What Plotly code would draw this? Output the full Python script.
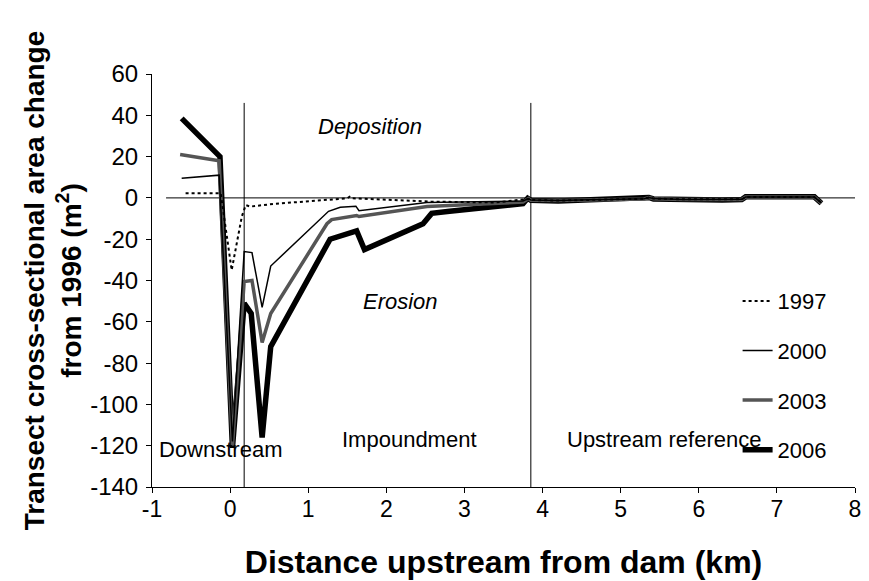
import plotly.graph_objects as go

# ---- data (km upstream from dam, change in m^2) ----
x_1997 = [-0.57, -0.12, 0.02, 0.15, 0.20, 0.26, 0.56, 1.50, 1.53, 1.56, 2.57, 3.40, 3.82, 3.85,
          4.2, 4.6, 5.0, 5.3, 5.36, 5.42, 5.8, 6.3, 6.55, 6.6, 7.0, 7.48, 7.57]
y_1997 = [2.2, 2.2, -35, -9, -3.5, -4.2, -2.9, -0.2, 0.6, -0.2, -1.8, -2.2, -0.5, -1.0,
          -1.3, -0.9, -0.7, -0.4, 0.2, -0.3, -0.7, -0.9, -0.7, 0.4, 0.5, 0.4, -2.3]

x_2000 = [-0.62, -0.14, 0.03, 0.18, 0.28, 0.41, 0.52, 1.26, 1.41, 1.61, 1.65, 2.52, 3.75, 3.82, 3.85,
          4.2, 4.6, 5.0, 5.3, 5.36, 5.42, 5.8, 6.3, 6.55, 6.6, 7.0, 7.48, 7.57]
y_2000 = [9.5, 11, -118, -26, -26.5, -53, -33, -6.5, -4.5, -4.0, -6.2, -2.2, -1.5, -0.3, -1.0,
          -1.2, -0.9, -0.7, -0.4, 0.2, -0.3, -0.8, -0.9, -0.7, 0.4, 0.5, 0.4, -2.4]

x_2003 = [-0.64, -0.14, 0.03, 0.18, 0.28, 0.41, 0.52, 1.24, 1.30, 1.62, 1.65, 2.52, 3.75, 3.82, 3.85,
          4.2, 4.6, 5.0, 5.3, 5.36, 5.42, 5.8, 6.3, 6.55, 6.6, 7.0, 7.48, 7.57]
y_2003 = [21, 18, -120, -40.5, -40, -70, -56, -12.5, -10.5, -8.5, -9.0, -4.2, -2.0, -0.3, -1.1,
          -1.3, -1.0, -0.8, -0.5, 0.2, -0.4, -0.8, -1.0, -0.8, 0.4, 0.5, 0.4, -2.5]

x_2006 = [-0.62, -0.13, 0.03, 0.18, 0.27, 0.41, 0.52, 1.28, 1.62, 1.72, 2.47, 2.58, 2.81, 3.75, 3.81, 3.85,
          4.2, 4.6, 5.0, 5.3, 5.36, 5.42, 5.8, 6.3, 6.55, 6.6, 7.0, 7.48, 7.57]
y_2006 = [38.5, 20, -121, -51, -56, -116, -72, -20, -16, -25, -12.5, -7.5, -6.5, -2.8, -0.2, -1.2,
          -1.5, -1.0, -0.8, -0.5, 0.2, -0.5, -0.9, -1.0, -0.8, 0.5, 0.5, 0.5, -2.6]

years = ["1997", "2000", "2003", "2006"]

x_tick_vals = [-1, 0, 1, 2, 3, 4, 5, 6, 7, 8]
x_tick_text = ["-1", "0", "1", "2", "3", "4", "5", "6", "7", "8"]
y_tick_vals = [-140, -120, -100, -80, -60, -40, -20, 0, 20, 40, 60]
y_tick_text = ["-140", "-120", "-100", "-80", "-60", "-40", "-20", "0", "20", "40", "60"]

# reference lines
dam_boundary_km = 0.18
reference_boundary_km = 3.85

FONT = "Liberation Sans, Arial, sans-serif"

fig = go.Figure()

series = [
    ("2006", x_2006, y_2006, dict(color="#000000", width=5.5), 4),
    ("2003", x_2003, y_2003, dict(color="#555555", width=3.5), 3),
    ("2000", x_2000, y_2000, dict(color="#000000", width=1.5), 2),
    ("1997", x_1997, y_1997, dict(color="#000000", width=2, dash="dot"), 1),
]
for name, xs, ys, line, rank in series:
    fig.add_trace(go.Scatter(x=xs, y=ys, mode="lines", name=name, line=line,
                             legendgroup=name, legendrank=rank))

# zero line and region boundaries
fig.add_shape(type="line", x0=-0.82, x1=8, y0=0, y1=0, xref="x", yref="y",
              line=dict(color="black", width=1), layer="below")
for xv in (dam_boundary_km, reference_boundary_km):
    fig.add_shape(type="line", x0=xv, x1=xv, y0=-140, y1=46, xref="x", yref="y",
                  line=dict(color="black", width=1), layer="below")

ann_font = dict(family=FONT, size=22, color="black")
fig.add_annotation(x=1.79, y=34.5, text="<i>Deposition</i>", showarrow=False, font=ann_font)
fig.add_annotation(x=2.18, y=-50, text="<i>Erosion</i>", showarrow=False, font=ann_font)
fig.add_annotation(x=-0.93, y=-122, text="Downstream", showarrow=False, font=ann_font,
                   xanchor="left")
fig.add_annotation(x=2.3, y=-117, text="Impoundment", showarrow=False, font=ann_font)
fig.add_annotation(x=5.56, y=-117, text="Upstream reference", showarrow=False, font=ann_font)

fig.update_layout(
    width=869, height=581,
    margin=dict(l=144, r=22, t=66, b=102),
    paper_bgcolor="white", plot_bgcolor="white",
    font=dict(family=FONT, size=22, color="black"),
    showlegend=True,
    legend=dict(x=0.833, y=0.501, xanchor="left", yanchor="top",
                bgcolor="rgba(0,0,0,0)", tracegroupgap=18,
                font=dict(family=FONT, size=22, color="black")),
    xaxis=dict(range=[-1, 8], tickvals=x_tick_vals, ticktext=x_tick_text, showgrid=False,
               zeroline=False, automargin=False,
               showline=True, linecolor="black", linewidth=1, ticks="outside", ticklen=5,
               tickcolor="black", tickfont=dict(size=23), ticklabelstandoff=-4,
               title=dict(text="<b>Distance upstream from dam (km)</b>",
                          font=dict(size=32), standoff=30)),
    yaxis=dict(range=[-140, 60], tickvals=y_tick_vals, ticktext=y_tick_text, showgrid=False,
               zeroline=False, automargin=False, showline=True, linecolor="black", linewidth=1,
               ticks="outside", ticklen=5, tickcolor="black", tickfont=dict(size=24),
               ticklabelstandoff=3,
               title=dict(text="<b>Transect cross-sectional area change<br>from 1996 (m<sup>2</sup>)</b>",
                          font=dict(size=28), standoff=0)),
)

fig.write_html("out.html")
